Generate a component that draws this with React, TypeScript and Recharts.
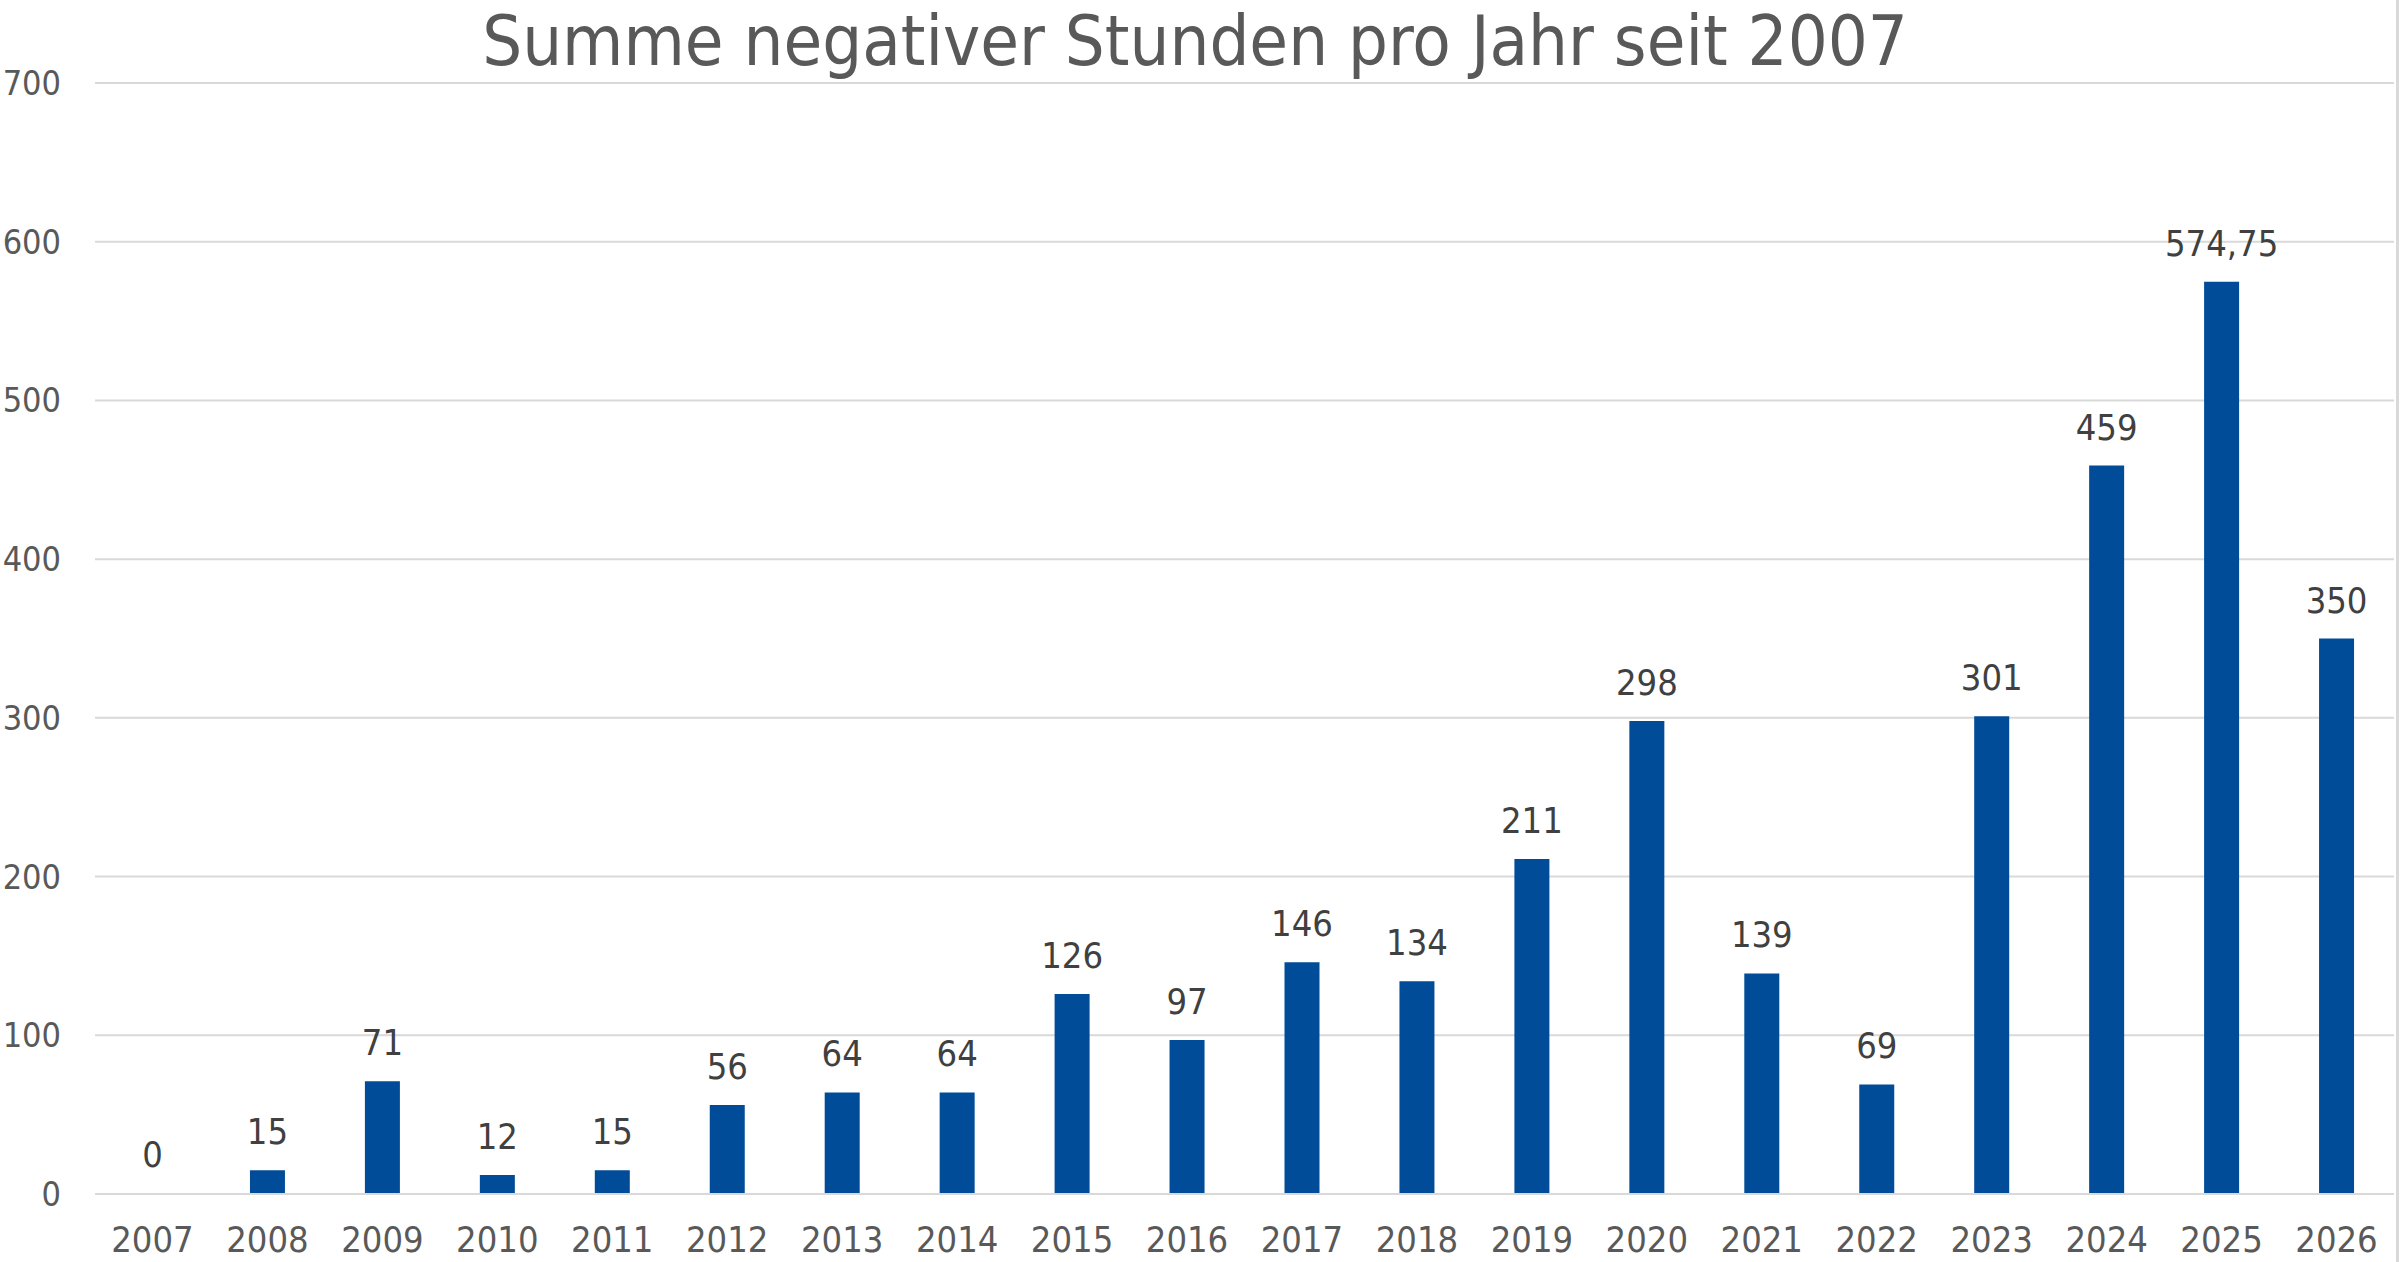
import React from 'react';
import { Bar, BarChart, CartesianGrid, LabelList, Rectangle, XAxis, YAxis } from 'recharts';

// Jahre und Summe negativer Stunden
const years = [
  '2007', '2008', '2009', '2010', '2011', '2012', '2013', '2014', '2015', '2016',
  '2017', '2018', '2019', '2020', '2021', '2022', '2023', '2024', '2025', '2026',
];
const hours = [0, 15, 71, 12, 15, 56, 64, 64, 126, 97, 146, 134, 211, 298, 139, 69, 301, 459, 574.75, 350];
const yTicks = [0, 100, 200, 300, 400, 500, 600, 700];

const title = 'Summe negativer Stunden pro Jahr seit 2007';

const FONT = "Tahoma, 'DejaVu Sans Condensed', 'DejaVu Sans', sans-serif";
const TEXT = '#595959';
const GRID = '#D9D9D9';
const BAR = '#004C98';

const data = years.map((year, i) => ({ year, hours: hours[i] }));

const formatDe = (v: number | string) => String(v).replace('.', ',');

// own label so that the 0 of 2007 is drawn too
const ValueLabel = (props: any) => {
  const { x, y, width, value } = props;
  if (x == null || y == null) return null;
  return (
    <text
      x={Number(x) + Number(width) / 2}
      y={Number(y) - 26}
      textAnchor="middle"
      fontSize={36}
      fill="#404040"
      fontFamily={FONT}
    >
      {formatDe(value)}
    </text>
  );
};

// zero bars get a 1px placeholder (for the label) but are not painted
const BarShape = (props: any) => {
  if (!props.payload || props.payload.hours <= 0) return <g />;
  return <Rectangle {...props} />;
};

export default function App() {
  return (
    <div
      style={{
        position: 'absolute',
        left: 0,
        top: 0,
        width: 2400,
        height: 1262,
        background: '#fff',
        fontFamily: FONT,
      }}
    >
      <BarChart
        width={2400}
        height={1262}
        data={data}
        margin={{ top: 83, right: 6, left: 0, bottom: 0 }}
        barSize={35}
      >
        <text x={1195} y={65} textAnchor="middle" fontSize={70} fill={TEXT} fontFamily={FONT}>
          {title}
        </text>
        <CartesianGrid horizontal vertical={false} stroke={GRID} strokeWidth={2} />
        <XAxis
          dataKey="year"
          height={68}
          tickSize={0}
          tickMargin={32}
          axisLine={{ stroke: GRID, strokeWidth: 2 }}
          tickLine={false}
          tick={{ fontSize: 36, fill: TEXT, fontFamily: FONT }}
          interval={0}
        />
        <YAxis
          width={95}
          domain={[0, 700]}
          ticks={yTicks}
          tickSize={0}
          tickMargin={34}
          axisLine={false}
          tickLine={false}
          tick={{ fontSize: 34, fill: TEXT, fontFamily: FONT }}
        />
        <Bar
          dataKey="hours"
          fill={BAR}
          isAnimationActive={false}
          minPointSize={(v: any) => (Number(v) === 0 ? 1 : 0)}
          shape={BarShape}
        >
          <LabelList dataKey="hours" content={ValueLabel} />
        </Bar>
      </BarChart>
      <div
        style={{
          position: 'absolute',
          left: 2396,
          top: 0,
          width: 3,
          height: 1262,
          background: GRID,
        }}
      />
    </div>
  );
}
